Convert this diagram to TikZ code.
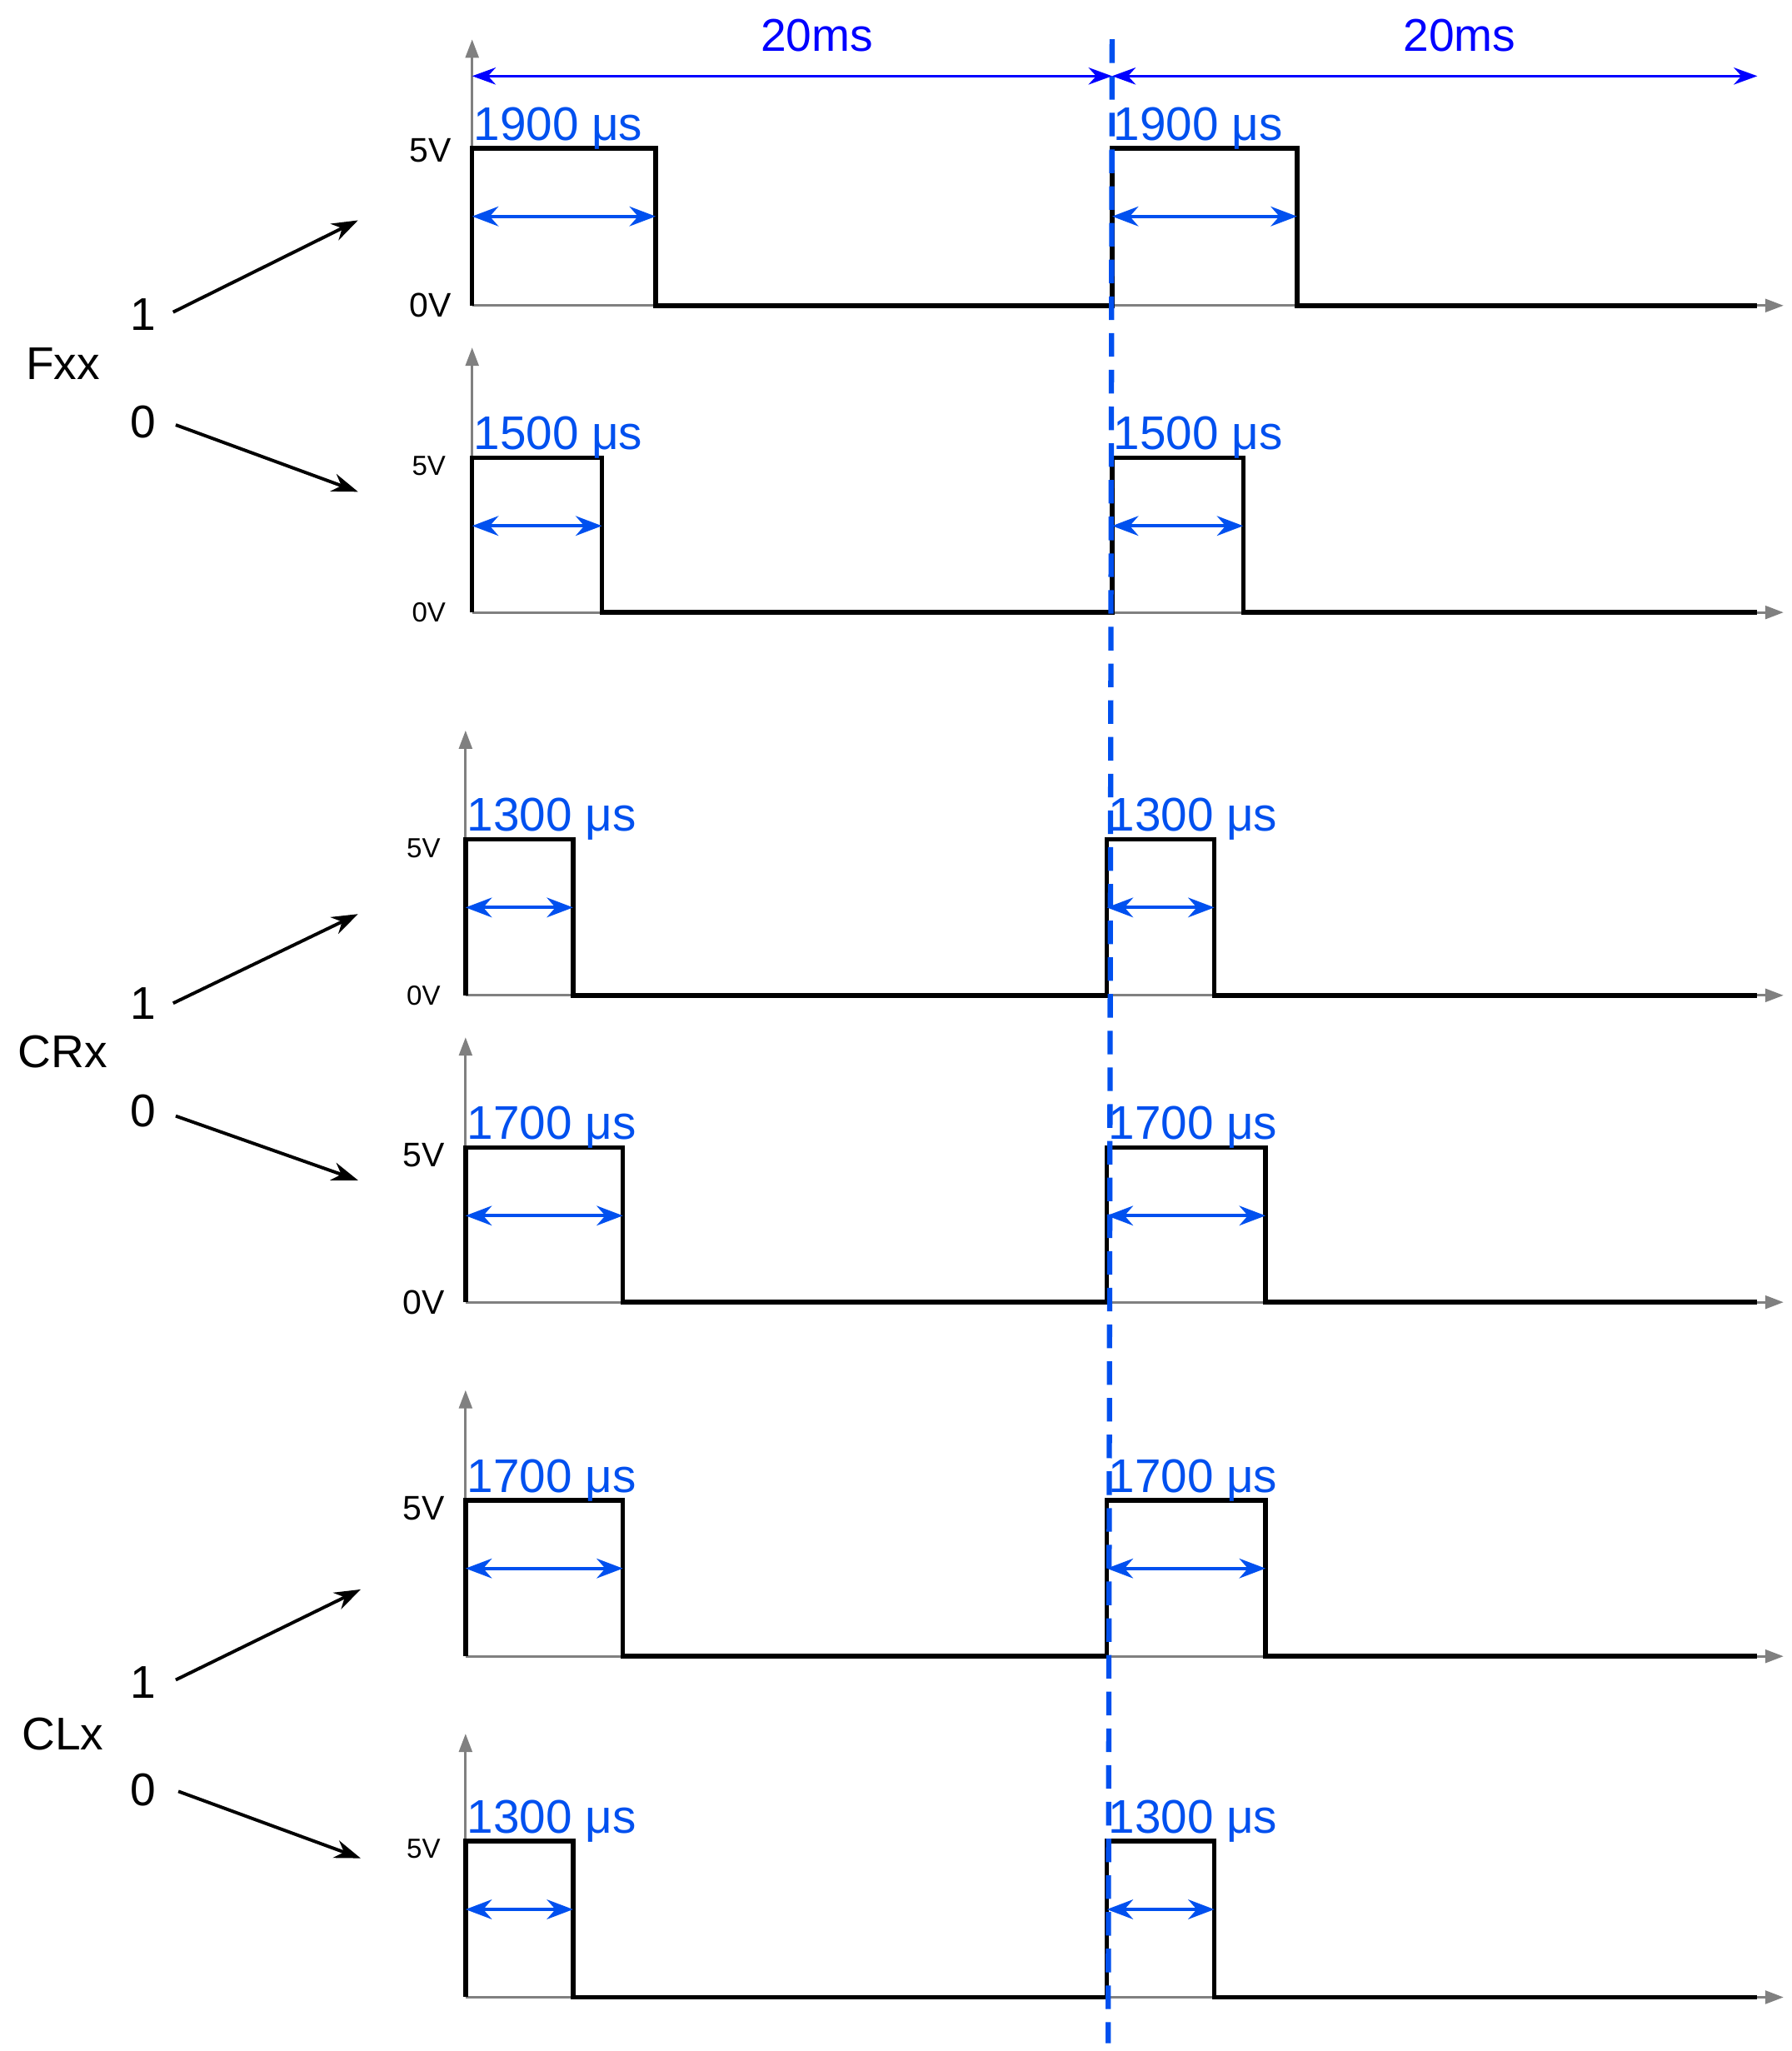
\documentclass[tikz,border=0pt]{standalone}
\usepackage{fontspec}
\setmainfont{Liberation Sans}
\usetikzlibrary{arrows.meta}
\definecolor{lb}{HTML}{0050EF}
\definecolor{db}{HTML}{0000FF}
\begin{document}
\begin{tikzpicture}[x=1pt,y=-1pt,
 ax/.style={draw=gray,line width=2pt,-{Triangle[length=14pt,width=10pt]}},
 sig/.style={draw=black,line width=3.5pt,line join=miter},
 dim/.style={draw=lb,line width=2.5pt,{Stealth[length=20pt,width=15pt]}-{Stealth[length=20pt,width=15pt]}},
 lbl/.style={text=lb,font=\fontsize{36}{40}\selectfont},
 vl/.style={font=\fontsize{26}{30}\selectfont,anchor=center},
 vs/.style={font=\fontsize{21}{24}\selectfont,anchor=center},
 big/.style={font=\fontsize{35}{40}\selectfont},
 pt/.style={draw=black,line width=2.5pt,-{Stealth[length=20pt,width=14pt]}}]
\useasboundingbox (0,0) rectangle (1366,1564);
\newcommand{\panel}[9]{%
 \draw[ax] (#1,#2) -- (#1,#3);
 \draw[ax] (#1,#2) -- (1360,#2);
 \draw[sig] (#1,#2) -- (#1,#4) -- (#5,#4) -- (#5,#2) -- (#6,#2) -- (#6,#4) -- (#7,#4) -- (#7,#2) -- (1340,#2);
 \draw[dim] (#1,#4+52) -- (#5,#4+52);
 \draw[dim] (#6,#4+52) -- (#7,#4+52);
 \node[lbl,anchor=south west,inner sep=1pt] at (#1,#4+2) {#8};
 \node[lbl,anchor=south west,inner sep=1pt] at (#6,#4+2) {#8};
 #9}
\panel{360}{233}{30}{113}{500}{848}{989}{1900 μs}{\node[vl] at (328,115){5V};\node[vl] at (328,233){0V};}
\panel{360}{467}{265}{349}{459}{848}{948}{1500 μs}{\node[vs] at (327,355){5V};\node[vs] at (327,467){0V};}
\panel{355}{759}{557}{640}{437}{844}{926}{1300 μs}{\node[vs] at (323,647){5V};\node[vs] at (323,759){0V};}
\panel{355}{993}{791}{875}{475}{844}{965}{1700 μs}{\node[vl] at (323,881){5V};\node[vl] at (323,993){0V};}
\panel{355}{1263}{1060}{1144}{475}{844}{965}{1700 μs}{\node[vl] at (323,1150){5V};}
\panel{355}{1523}{1322}{1404}{437}{844}{926}{1300 μs}{\node[vs] at (323,1410){5V};}
\draw[draw=lb,line width=4pt,dash pattern=on 18pt off 10pt] (848,30) -- (845,1558);
\coordinate (a0) at (360,58); \coordinate (a1) at (848,58); \coordinate (a2) at (1340,58);
\draw[draw=db,line width=2pt,{Stealth[length=18pt,width=13pt]}-{Stealth[length=18pt,width=13pt]}] (a0) -- (a1);
\draw[draw=db,line width=2pt,{Stealth[length=18pt,width=13pt]}-{Stealth[length=18pt,width=13pt]}] (a1) -- (a2);
\node[text=db,big] at (623,27) {20ms};
\node[text=db,big] at (1113,27) {20ms};
\node[big] (f) at (48,277) {Fxx};
\node[big] (f1) at (109,240) {1}; \node[big] (f0) at (109,322) {0};
\coordinate (f1e) at (273,168); \coordinate (f0e) at (273,375);
\draw[pt] (132,238) -- (f1e); \draw[pt] (134,324) -- (f0e);
\node[big] (c) at (48,802) {CRx};
\node[big] (c1) at (109,765) {1}; \node[big] (c0) at (109,847) {0};
\coordinate (c1e) at (273,697); \coordinate (c0e) at (273,900);
\draw[pt] (132,765) -- (c1e); \draw[pt] (134,851) -- (c0e);
\node[big] (l) at (48,1322) {CLx};
\node[big] (l1) at (109,1283) {1}; \node[big] (l0) at (109,1365) {0};
\coordinate (l1e) at (275,1212); \coordinate (l0e) at (275,1417);
\draw[pt] (134,1281) -- (l1e); \draw[pt] (136,1366) -- (l0e);
\end{tikzpicture}
\end{document}
